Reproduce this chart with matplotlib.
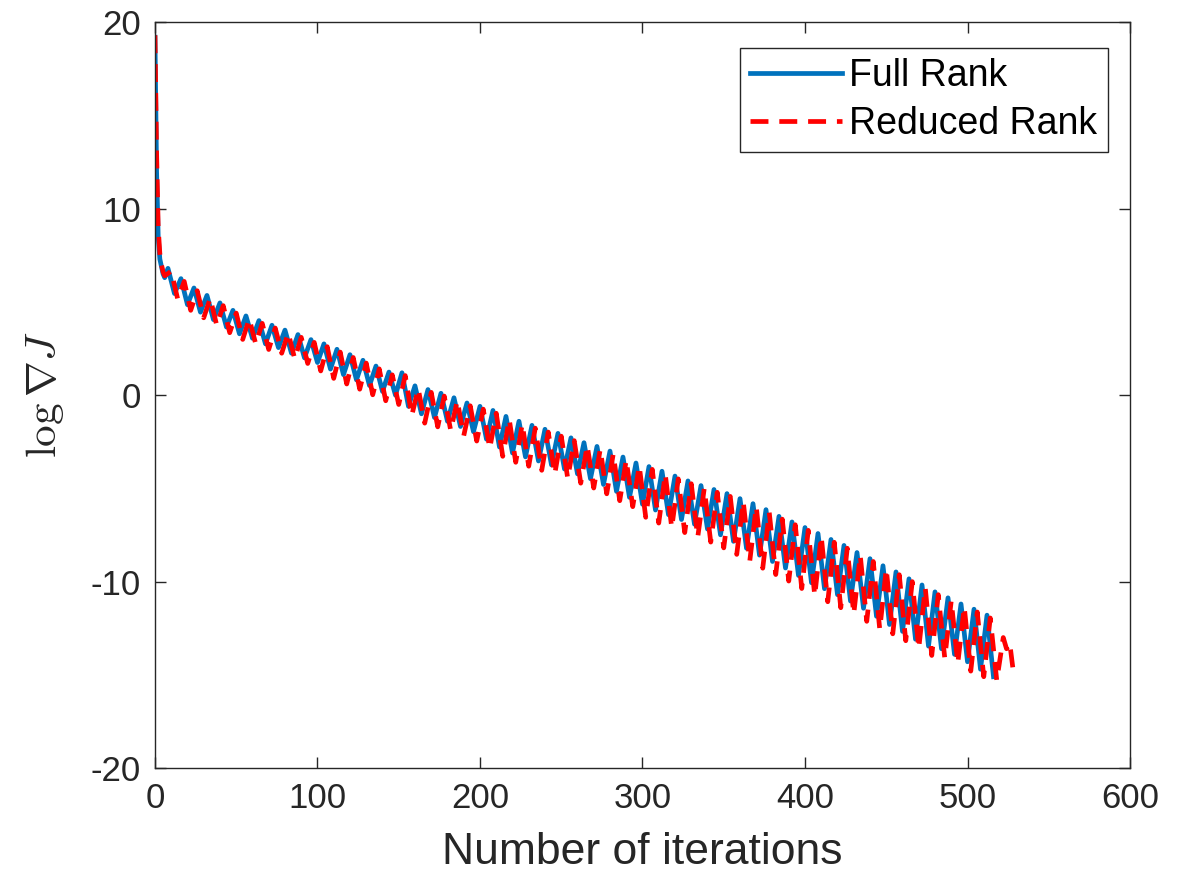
import numpy as np
import matplotlib
matplotlib.use("Agg")
import matplotlib.pyplot as plt

plt.rcParams["font.family"] = ["Liberation Sans", "DejaVu Sans"]
plt.rcParams["mathtext.fontset"] = "cm"
plt.rcParams["axes.unicode_minus"] = False

# turning points of the gradient history
full_iter = np.r_[0:7, 8:517:4]
full_val = [
    19.2, 12.0, 8.5, 7.3, 6.9, 6.5, 6.3,
    6.8, 5.45, 6.25, 4.85, 5.75, 4.45, 5.35, 4.05,
    4.95, 3.65, 4.55, 3.29, 4.25, 3.05, 4.0, 2.75,
    3.75, 2.55, 3.49, 2.25, 3.25, 2.0, 2.98, 1.75,
    2.75, 1.4, 2.46, 1.1, 2.17, 0.82, 1.87, 0.52,
    1.56, 0.2, 1.24, 0.0, 1.2, -0.6, 0.5, -1.0,
    0.3, -1.2, 0.1, -1.4, -0.14, -1.68, -0.42, -1.96,
    -0.6, -2.36, -0.82, -2.78, -1.14, -3.1, -1.4, -3.31,
    -1.62, -3.53, -1.83, -3.74, -2.05, -3.96, -2.29, -4.22,
    -2.55, -4.48, -2.75, -4.79, -3.0, -5.16, -3.32, -5.48,
    -3.64, -5.85, -3.83, -6.16, -4.08, -6.41, -4.34, -6.67,
    -4.6, -6.92, -4.85, -7.18, -5.06, -7.49, -5.28, -7.84,
    -5.55, -8.21, -5.82, -8.58, -6.14, -8.92, -6.5, -9.27,
    -6.8, -9.67, -7.1, -10.06, -7.42, -10.38, -7.74, -10.7,
    -8.06, -11.04, -8.44, -11.43, -8.77, -11.86, -9.15, -12.3,
    -9.48, -12.67, -9.85, -13.09, -10.18, -13.46, -10.55, -13.6,
    -10.87, -13.9, -11.2, -14.3, -11.48, -14.7, -11.8, -15.1,
]

red_iter = np.r_[0:7, 10:519:4, 522, 524, 526, 528]
red_val = [
    19.3, 13.0, 9.0, 7.6, 7.0, 6.6, 6.4,
    6.65, 5.15, 6.1, 4.55, 5.6, 4.15, 5.2, 3.75,
    4.8, 3.35, 4.4, 2.99, 4.1, 2.75, 3.85, 2.45,
    3.6, 2.25, 3.34, 1.95, 3.1, 1.7, 2.83, 1.3,
    2.6, 0.9, 2.31, 0.6, 2.02, 0.32, 1.72, 0.02,
    1.41, -0.3, 1.09, -0.5, 1.05, -1.1, 0.35, -1.5,
    0.15, -1.7, -0.05, -1.9, -0.29, -2.18, -0.57, -2.46,
    -0.75, -2.86, -0.97, -3.28, -1.29, -3.6, -1.55, -3.81,
    -1.77, -4.03, -1.98, -4.24, -2.2, -4.46, -2.44, -4.72,
    -2.7, -4.98, -2.9, -5.29, -3.15, -5.66, -3.47, -5.98,
    -3.79, -6.55, -3.98, -6.86, -4.23, -7.11, -4.49, -7.37,
    -4.75, -7.62, -5.0, -7.88, -5.21, -8.19, -5.43, -8.54,
    -5.7, -8.91, -5.97, -9.28, -6.29, -9.62, -6.65, -9.97,
    -6.95, -10.37, -7.25, -10.76, -7.57, -11.08, -7.89, -11.4,
    -8.21, -11.74, -8.59, -12.13, -8.92, -12.56, -9.3, -12.8,
    -9.63, -13.17, -10.0, -13.59, -10.33, -13.96, -10.7, -14.1,
    -11.02, -14.4, -11.35, -14.8, -11.63, -15.1, -11.95, -15.3,
    -13.0, -13.6, -13.3, -14.7,
]

x_ticks = [0, 100, 200, 300, 400, 500, 600]
y_ticks = [-20, -10, 0, 10, 20]

GRAY = "#262626"

fig = plt.figure(figsize=(11.92, 8.9), dpi=100)
ax = fig.add_axes([0.130, 0.137, 0.818, 0.838])

ax.plot(full_iter, full_val, color="#0072BD", lw=3.4, label="Full Rank")
ax.plot(red_iter, red_val, color="#FF0000", lw=3.4, ls=(0, (3.8, 2.3)),
        label="Reduced Rank")

ax.set_xlim(0, 600)
ax.set_ylim(-20, 20)
ax.set_xticks(x_ticks)
ax.set_yticks(y_ticks)
ax.tick_params(direction="in", length=8, width=1, colors=GRAY,
               labelsize=25, top=True, right=True, pad=10)
for s in ax.spines.values():
    s.set_color(GRAY)
    s.set_linewidth(1.0)

ax.set_xlabel("Number of iterations", fontsize=32, color=GRAY, labelpad=12)
ax.set_ylabel(r"$\log\nabla J$", fontsize=31, color=GRAY, labelpad=18)

leg = ax.legend(loc="upper right", fontsize=27, handlelength=2.45,
                handletextpad=0.2, labelspacing=0.33, borderpad=0.27,
                borderaxespad=0, fancybox=False, framealpha=1,
                edgecolor=GRAY, bbox_to_anchor=(0.977, 0.966))
leg.get_frame().set_linewidth(1.0)

fig.savefig("out.png", dpi=100, facecolor="white")
